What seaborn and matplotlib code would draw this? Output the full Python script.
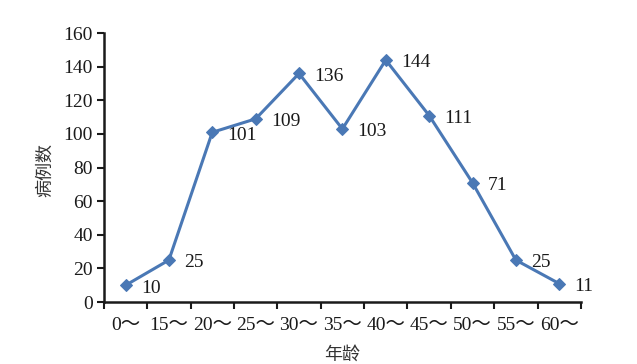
import matplotlib
matplotlib.use("Agg")
import matplotlib.pyplot as plt
import seaborn as sns
import pandas as pd
import numpy as np

categories = ["0～", "15～", "20～", "25～", "30～", "35～", "40～", "45～", "50～", "55～", "60～"]
cases = [10, 25, 101, 109, 136, 103, 144, 111, 71, 25, 11]
y_ticks = [0, 20, 40, 60, 80, 100, 120, 140, 160]

sns.set_theme(style="white")
plt.rcParams['font.family'] = ['Liberation Serif', 'Noto Sans CJK SC']

df = pd.DataFrame({"age": categories, "cases": cases})
df["pos"] = np.arange(len(categories))

fig = plt.figure(figsize=(6.37, 3.64), dpi=100)
ax = fig.add_axes([0.163, 0.170, 0.749, 0.739])

color = "#4A78B5"
fs = 14
sns.lineplot(data=df, x="pos", y="cases", ax=ax, color=color, linewidth=2.2,
             marker="D", markersize=6.5, markeredgecolor=color, markerfacecolor=color)

for x, y in zip(df["pos"], df["cases"]):
    ax.annotate(str(y), (x, y), xytext=(11, -2), textcoords="offset points",
                ha="left", va="center", fontsize=fs, color="#1a1a1a",
                family="Liberation Serif")

ax.set_xlim(-0.5, len(categories) - 0.5)
ax.set_ylim(0, 160)
ax.set_yticks(y_ticks)
ax.set_yticklabels([str(t) for t in y_ticks], fontsize=fs, color="#1a1a1a")
ax.set_xticks(df["pos"])
ax.set_xticklabels(categories, fontsize=fs, color="#1a1a1a",
                   family=['Liberation Serif', 'Noto Sans CJK SC'])
ax.set_xticks(np.arange(-0.5, len(categories)), minor=True)
ax.tick_params(axis="x", which="major", length=0, pad=11)
ax.tick_params(axis="x", which="minor", length=5, width=1.5, color="#1a1a1a", direction="out", bottom=True)
ax.tick_params(axis="y", which="major", length=5, width=1.5, color="#1a1a1a", direction="out", left=True, pad=3)

for s in ["top", "right"]:
    ax.spines[s].set_visible(False)
for s in ["left", "bottom"]:
    ax.spines[s].set_color("#1a1a1a")
    ax.spines[s].set_linewidth(1.8)

ax.set_xlabel("年龄", fontsize=13, family="Noto Sans CJK SC", color="#333333")
ax.set_ylabel("病例数", fontsize=13, family="Noto Sans CJK SC", color="#333333")
ax.xaxis.set_label_coords(0.5, -0.195)
ax.xaxis.label.set_va("center")
ax.yaxis.set_label_coords(-0.124, 0.49)
ax.yaxis.label.set_va("center")
ax.grid(False)

fig.savefig("out.png", dpi=100)
